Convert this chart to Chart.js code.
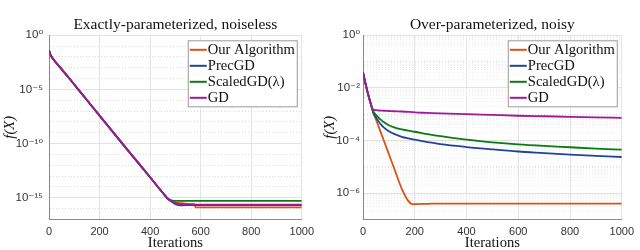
<!DOCTYPE html>
<html>
<head>
<meta charset="utf-8">
<script src="https://cdn.jsdelivr.net/npm/chart.js@4/dist/chart.umd.min.js"></script>
<style>
  html, body { margin: 0; padding: 0; background: #fff; }
  #wrap { position: relative; width: 640px; height: 250px; overflow: hidden; }
  canvas { position: absolute; top: 0; }
  #c1 { left: 0; }
  #c2 { left: 320px; }
</style>
</head>
<body>
<div id="wrap">
  <canvas id="c1" width="320" height="250"></canvas>
  <canvas id="c2" width="320" height="250"></canvas>
</div>
<script>
// ---------------- DATA ----------------
const SERIES_NAMES = ['Our Algorithm', 'PrecGD', 'ScaledGD(λ)', 'GD'];

// Left panel: Exactly-parameterized, noiseless
const ITER_LEFT = [0, 5, 10, 20, 50, 100, 150, 200, 250, 300, 350, 400, 450, 470,
                   480, 490, 500, 520, 540, 560, 575, 580, 600, 700, 800, 900, 1000];
const OURS_LEFT = [4.07e-2, 1.78e-2, 1.05e-2, 5.01e-3, 7.59e-4, 2.82e-5, 1.05e-6, 3.80e-8, 1.41e-9, 5.25e-11, 2.00e-12, 7.59e-14, 2.82e-15, 7.94e-16,
                   5.62e-16, 3.98e-16, 3.55e-16, 3.16e-16, 2.82e-16, 2.63e-16, 2.51e-16, 1.26e-16, 1.26e-16, 1.26e-16, 1.26e-16, 1.26e-16, 1.26e-16];
const PREC_LEFT = [4.07e-2, 1.78e-2, 1.05e-2, 5.01e-3, 7.59e-4, 2.82e-5, 1.05e-6, 3.80e-8, 1.41e-9, 5.25e-11, 2.00e-12, 7.59e-14, 2.82e-15, 7.94e-16,
                   5.25e-16, 3.55e-16, 2.51e-16, 1.91e-16, 2.00e-16, 2.00e-16, 2.00e-16, 2.00e-16, 2.00e-16, 2.00e-16, 2.00e-16, 2.00e-16, 2.00e-16];
const SCALED_LEFT = [4.07e-2, 1.78e-2, 1.05e-2, 5.01e-3, 7.59e-4, 2.82e-5, 1.05e-6, 3.80e-8, 1.41e-9, 5.25e-11, 2.00e-12, 7.59e-14, 2.82e-15, 7.94e-16,
                   6.31e-16, 5.25e-16, 5.01e-16, 5.01e-16, 5.01e-16, 5.01e-16, 5.01e-16, 5.01e-16, 5.01e-16, 5.01e-16, 5.01e-16, 5.01e-16, 5.01e-16];
const GD_LEFT = [4.07e-2, 1.78e-2, 1.05e-2, 5.01e-3, 7.59e-4, 2.82e-5, 1.05e-6, 3.80e-8, 1.41e-9, 5.25e-11, 2.00e-12, 7.59e-14, 2.82e-15, 7.94e-16,
                   5.62e-16, 3.98e-16, 3.16e-16, 2.51e-16, 2.40e-16, 2.24e-16, 2.24e-16, 2.24e-16, 2.24e-16, 2.24e-16, 2.24e-16, 2.24e-16, 2.24e-16];

// Right panel: Over-parameterized, noisy
const ITER_RIGHT = [0, 10, 20, 30, 35, 40, 50, 60, 70, 80, 100, 120, 150, 175, 190, 200,
                    250, 300, 400, 500, 600, 700, 800, 900, 1000];
const OURS_RIGHT = [3.98e-2, 1.41e-2, 5.62e-3, 2.51e-3, 1.66e-3, 1.12e-3, 6.31e-4, 3.47e-4, 1.86e-4, 1.02e-4, 3.02e-5, 8.91e-6, 1.45e-6, 5.01e-7, 3.80e-7, 3.80e-7,
                    3.89e-7, 3.98e-7, 3.98e-7, 3.98e-7, 3.98e-7, 3.98e-7, 3.98e-7, 3.98e-7, 3.98e-7];
const PREC_RIGHT = [3.98e-2, 1.41e-2, 5.62e-3, 2.51e-3, 1.66e-3, 1.12e-3, 7.59e-4, 5.37e-4, 3.98e-4, 3.16e-4, 2.24e-4, 1.78e-4, 1.38e-4, 1.20e-4, 1.12e-4, 1.07e-4,
                    8.71e-5, 7.24e-5, 5.62e-5, 4.57e-5, 3.80e-5, 3.31e-5, 2.88e-5, 2.57e-5, 2.34e-5];
const SCALED_RIGHT = [3.98e-2, 1.41e-2, 5.62e-3, 2.51e-3, 1.66e-3, 1.26e-3, 9.33e-4, 7.41e-4, 6.03e-4, 5.01e-4, 3.80e-4, 3.16e-4, 2.63e-4, 2.34e-4, 2.21e-4, 2.14e-4,
                    1.74e-4, 1.45e-4, 1.07e-4, 8.51e-5, 7.08e-5, 6.17e-5, 5.50e-5, 4.90e-5, 4.47e-5];
const GD_RIGHT = [3.98e-2, 1.41e-2, 5.62e-3, 2.51e-3, 1.66e-3, 1.51e-3, 1.41e-3, 1.38e-3, 1.36e-3, 1.35e-3, 1.32e-3, 1.29e-3, 1.26e-3, 1.22e-3, 1.20e-3, 1.17e-3,
                    1.12e-3, 1.07e-3, 1.00e-3, 9.33e-4, 8.71e-4, 8.32e-4, 7.94e-4, 7.59e-4, 7.24e-4];

const X_TICKS = [0, 200, 400, 600, 800, 1000];
const Y_TICKS_LEFT = [1, 1e-5, 1e-10, 1e-15];
const Y_TICKS_RIGHT = [1, 1e-2, 1e-4, 1e-6];

// ---------------- STYLE ----------------
const COLORS = ['#D95319', '#21449A', '#0B7A13', '#A3169E'];
const SERIF = '"Liberation Serif", "DejaVu Serif", serif';
const SANS = '"Liberation Sans", Arial, "DejaVu Sans", sans-serif';

const SUP = {'0':'⁰','1':'¹','2':'²','3':'³','4':'⁴','5':'⁵','6':'⁶','7':'⁷','8':'⁸','9':'⁹','-':'⁻'};
function powLabel(v) {
  const e = Math.round(Math.log10(v));
  return '10' + String(e).split('').map(c => SUP[c]).join('');
}

const insideLegend = {
  id: 'insideLegend',
  afterDatasetsDraw(chart) {
    const ctx = chart.ctx, a = chart.chartArea;
    const w = 110, h = 67;
    const x0 = a.right - 4 - w, y0 = a.top + 5;
    ctx.save();
    ctx.fillStyle = '#fff';
    ctx.fillRect(x0, y0, w, h);
    ctx.strokeStyle = '#9a9a9a';
    ctx.lineWidth = 1;
    ctx.strokeRect(x0 + 0.5, y0 + 0.5, w - 1, h - 1);
    ctx.font = '14.6px ' + SERIF;
    ctx.textBaseline = 'middle';
    ctx.fillStyle = '#111';
    SERIES_NAMES.forEach((name, i) => {
      const yy = y0 + 9.5 + i * 16;
      ctx.strokeStyle = COLORS[i];
      ctx.lineWidth = 2;
      ctx.beginPath();
      ctx.moveTo(x0 + 2, yy);
      ctx.lineTo(x0 + 19, yy);
      ctx.stroke();
      ctx.fillText(name, x0 + 20, yy + 0.5);
    });
    ctx.restore();
  }
};

function makeChart(id, title, iters, series, yMin, yTicks, minorSub, yWidth, yPad) {
  const orders = [3, 2, 1, 0];
  const datasets = series.map((vals, i) => ({
    label: SERIES_NAMES[i],
    data: iters.map((x, j) => ({x: x, y: vals[j]})),
    borderColor: COLORS[i],
    borderWidth: 1.8,
    pointRadius: 0,
    fill: false,
    cubicInterpolationMode: 'monotone',
    order: orders[i]
  }));
  const majorSet = new Set(yTicks.map(v => Math.round(Math.log10(v))));
  return new Chart(document.getElementById(id), {
    type: 'line',
    data: { datasets },
    options: {
      responsive: false,
      animation: false,
      layout: { padding: { left: 0, right: 13, top: 0, bottom: 0 } },
      plugins: {
        legend: { display: false },
        tooltip: { enabled: false },
        title: {
          display: true, text: title, fullSize: false, color: '#111',
          font: { family: SERIF, size: 15.5, weight: 'normal', lineHeight: 1.2 },
          padding: { top: 16, bottom: 0.7 }
        }
      },
      scales: {
        x: {
          type: 'linear', min: 0, max: 1000,
          afterBuildTicks: s => { s.ticks = X_TICKS.map(v => ({value: v})); },
          afterFit: s => { s.height = 30.7; },
          ticks: { font: { family: SANS, size: 11 }, color: '#333', padding: 6, maxRotation: 0,
                   callback: v => String(v) },
          grid: { color: '#e4e4e4', lineWidth: 1, drawTicks: false },
          border: { color: '#8a8a8a', width: 1 },
          title: { display: true, text: 'Iterations', color: '#111',
                   font: { family: SERIF, size: 14.6, lineHeight: 1 }, padding: { top: 0, bottom: 0 } }
        },
        y: {
          type: 'logarithmic', min: yMin, max: 1,
          afterBuildTicks: s => {
            const t = [];
            const eMin = Math.round(Math.log10(yMin));
            for (let e = 0; e >= eMin; e--) {
              t.push({ value: Math.pow(10, e), major: majorSet.has(e), decade: true });
              if (minorSub && e > eMin) {
                for (let m = 2; m <= 9; m++) t.push({ value: m * Math.pow(10, e - 1), major: false, decade: false });
              }
            }
            s.ticks = t;
          },
          afterFit: s => { s.width = yWidth; },
          ticks: {
            autoSkip: false, font: { family: SANS, size: 11.5 }, color: '#333', padding: yPad,
            callback: (v, i, ticks) => (ticks[i] && ticks[i].major) ? powLabel(v) : ''
          },
          grid: {
            drawTicks: false, lineWidth: 1,
            color: c => {
              if (!c.tick) return '#e4e4e4';
              if (c.tick.major) return '#e2e2e2';
              if (c.tick.decade) return '#dcdcdc';
              return '#ededed';
            }
          },
          border: {
            color: '#8a8a8a', width: 1,
            dash: c => (c.tick && !c.tick.major) ? [1, 2] : []
          },
          title: { display: true, text: 'f(X)', color: '#111',
                   font: { family: SERIF, size: 14.6, style: 'italic', lineHeight: 1 }, padding: { top: 3, bottom: 0 } }
        }
      }
    },
    plugins: [insideLegend]
  });
}

makeChart('c1', 'Exactly-parameterized, noiseless', ITER_LEFT,
  [OURS_LEFT, PREC_LEFT, SCALED_LEFT, GD_LEFT], 1e-17, Y_TICKS_LEFT, false, 49, 6);
makeChart('c2', 'Over-parameterized, noisy', ITER_RIGHT,
  [OURS_RIGHT, PREC_RIGHT, SCALED_RIGHT, GD_RIGHT], 1e-7, Y_TICKS_RIGHT, true, 43, 3);
</script>
</body>
</html>
